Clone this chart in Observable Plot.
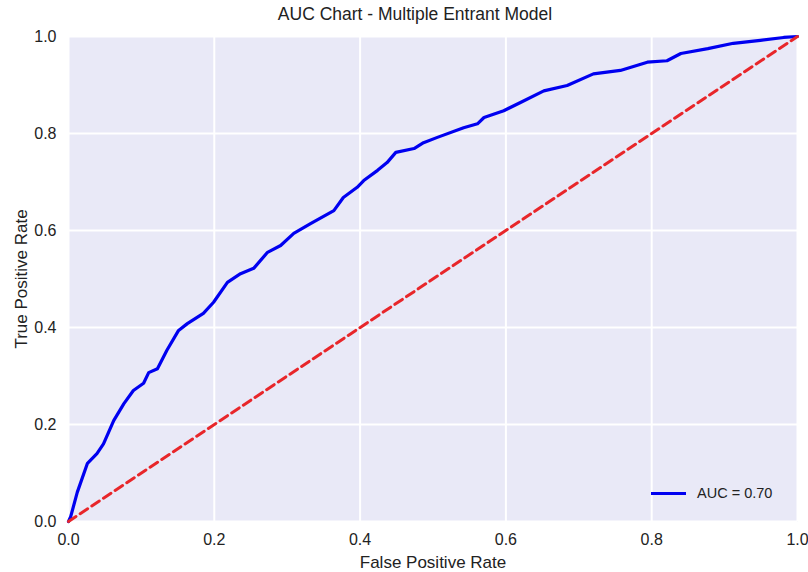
<!DOCTYPE html>
<html>
<head>
<meta charset="utf-8">
<script src="https://cdn.jsdelivr.net/npm/d3@7"></script>
<script src="https://cdn.jsdelivr.net/npm/@observablehq/plot@0.6"></script>
<style>
  html, body { margin: 0; padding: 0; background: #fff; }
  body { width: 808px; height: 572px; position: relative; overflow: hidden; font-family: "Liberation Sans", Arial, sans-serif; }
  #title { height: 26px; line-height: 28px; text-align: center; font-size: 17.5px; color: #222; padding-left: 22px; box-sizing: border-box; }
  #legend { position: absolute; left: 651px; top: 485px; display: flex; align-items: center; font-size: 14.5px; color: #222; }
  #legend .sw { width: 35px; height: 3px; background: #0000F0; margin-right: 11px; }
</style>
</head>
<body>
<div id="title">AUC Chart - Multiple Entrant Model</div>
<div id="chart"></div>
<div id="legend"><div class="sw"></div><span id="legendText"></span></div>
<script>
const fpr = [0, 0.003, 0.012, 0.026, 0.039, 0.048, 0.062, 0.076, 0.089, 0.103, 0.11, 0.122, 0.135, 0.151, 0.163, 0.185, 0.199, 0.218, 0.236, 0.254, 0.273, 0.291, 0.309, 0.332, 0.364, 0.377, 0.396, 0.405, 0.424, 0.437, 0.449, 0.474, 0.487, 0.506, 0.542, 0.561, 0.570, 0.597, 0.620, 0.652, 0.684, 0.720, 0.757, 0.794, 0.821, 0.840, 0.877, 0.912, 0.949, 0.981, 1.0];
const tpr = [0, 0.01, 0.06, 0.12, 0.14, 0.16, 0.208, 0.243, 0.27, 0.285, 0.307, 0.315, 0.353, 0.394, 0.408, 0.429, 0.452, 0.493, 0.511, 0.522, 0.555, 0.569, 0.594, 0.614, 0.641, 0.668, 0.689, 0.703, 0.724, 0.740, 0.761, 0.769, 0.781, 0.792, 0.812, 0.820, 0.833, 0.847, 0.864, 0.888, 0.899, 0.923, 0.930, 0.947, 0.950, 0.965, 0.975, 0.986, 0.992, 0.998, 1.0];
const diagX = [0, 1];
const diagY = [0, 1];
const ticks = [0, 0.2, 0.4, 0.6, 0.8, 1.0];
const aucLabel = "AUC = 0.70";

const roc = fpr.map((x, i) => ({x, y: tpr[i]}));
const diag = diagX.map((x, i) => ({x, y: diagY[i]}));
const fmt = d3.format(".1f");

const chart = Plot.plot({
  width: 808,
  height: 546,
  marginLeft: 68,
  marginRight: 11,
  marginTop: 10,
  marginBottom: 51,
  style: {fontFamily: "Liberation Sans, Arial, sans-serif", fontSize: "16px", color: "#222", background: "white"},
  x: {domain: [0, 1]},
  y: {domain: [0, 1]},
  marks: [
    Plot.frame({fill: "#E9E9F7", stroke: null}),
    Plot.gridX(ticks, {stroke: "white", strokeOpacity: 1, strokeWidth: 2}),
    Plot.gridY(ticks, {stroke: "white", strokeOpacity: 1, strokeWidth: 2}),
    Plot.axisX(ticks, {tickFormat: fmt, tickSize: 0, tickPadding: 12, fontSize: 16, label: null}),
    Plot.axisX({ticks: [], tickSize: 0, label: "False Positive Rate", labelAnchor: "center", labelArrow: "none", labelOffset: 46, fontSize: 17}),
    Plot.axisY(ticks, {tickFormat: fmt, tickSize: 0, tickPadding: 12, fontSize: 16, label: null}),
    Plot.axisY({ticks: [], tickSize: 0, label: "True Positive Rate", labelAnchor: "center", labelArrow: "none", labelOffset: 54, fontSize: 17}),
    Plot.line(roc, {x: "x", y: "y", stroke: "#0000F0", strokeWidth: 3.2, strokeLinejoin: "round"}),
    Plot.line(diag, {x: "x", y: "y", stroke: "#E8262A", strokeWidth: 3, strokeDasharray: "9,5"})
  ]
});
document.getElementById("chart").appendChild(chart);
document.getElementById("legendText").textContent = aucLabel;
</script>
</body>
</html>
